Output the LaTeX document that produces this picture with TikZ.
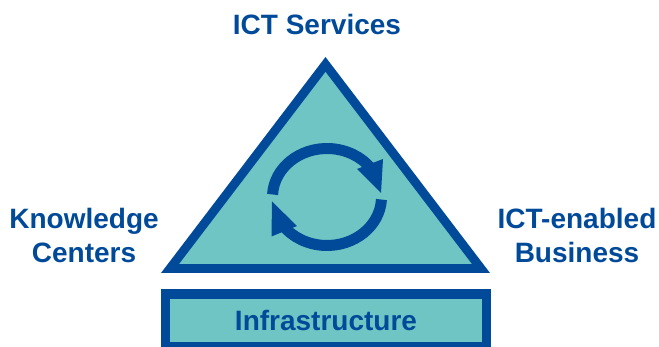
\documentclass[tikz,border=0pt]{standalone}
\usepackage{fontspec}
\setmainfont{Liberation Sans}
\definecolor{dblue}{RGB}{0,74,153}
\definecolor{teal2}{RGB}{111,197,195}
\begin{document}
\begin{tikzpicture}[x=1pt,y=-1pt,
  lbl/.style={text=dblue,font=\fontsize{28}{34}\selectfont\bfseries,inner sep=0pt,align=center},
  arcline/.style={draw=dblue,line width=11pt,line cap=butt}]
\useasboundingbox (0,0) rectangle (659,347);
% triangle
\fill[dblue] (161,273) -- (490,273) -- (325.5,57) -- cycle;
\fill[teal2] (179.2,264) -- (471.8,264) -- (325.5,72) -- cycle;
% infrastructure box
\fill[dblue] (160.5,289) rectangle (491,347);
\fill[teal2] (170,299) rectangle (482,342);
% cycle arrows
\coordinate (c) at (327,197);
\draw[arcline] (c) ++(-177:54.5 and 48.5) arc[start angle=-177,end angle=-36,x radius=54.5,y radius=48.5];
\fill[dblue] (357,169) -- (383,159) -- (381,193) -- cycle;
\draw[arcline] (c) ++(3:54.5 and 48.5) arc[start angle=3,end angle=144,x radius=54.5,y radius=48.5];
\fill[dblue] (297,226) -- (271.5,236.5) -- (272,201.5) -- cycle;
% labels
\node[lbl,anchor=base] (svc) at (317,35) {ICT Services};
\node[lbl] (kc) at (84,235) {Knowledge\\Centers};
\node[lbl] (biz) at (577,235) {ICT-enabled\\Business};
\node[lbl,anchor=base] (inf) at (326,331) {Infrastructure};
\end{tikzpicture}
\end{document}
